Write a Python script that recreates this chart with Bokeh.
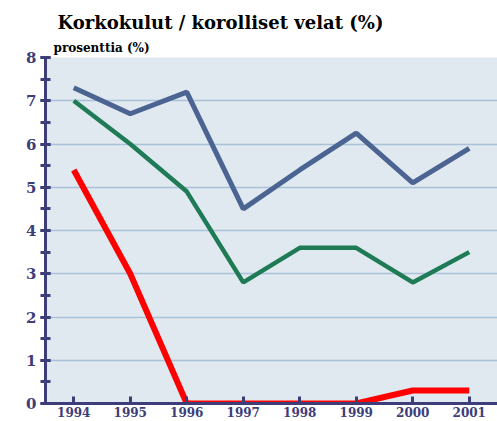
from bokeh.plotting import figure
from bokeh.models import Title, Range1d, FixedTicker
from bokeh.embed import file_html
from bokeh.resources import INLINE

years = [1994, 1995, 1996, 1997, 1998, 1999, 2000, 2001]
blue_vals = [7.3, 6.7, 7.2, 4.5, 5.4, 6.25, 5.1, 5.9]
green_vals = [7.0, 6.0, 4.9, 2.8, 3.6, 3.6, 2.8, 3.5]
red_vals = [5.4, 3.0, 0.0, 0.0, 0.0, 0.0, 0.3, 0.3]
y_ticks = [0, 1, 2, 3, 4, 5, 6, 7, 8]

NAVY = "#3d3d7a"
FONT = "DejaVu Serif"

p = figure(width=497, height=421, output_backend="svg", toolbar_location=None,
           x_range=Range1d(1993.5, 2001.5), y_range=Range1d(0, 8),
           min_border_left=45, min_border_right=0, min_border_top=57, min_border_bottom=18,
           background_fill_color="#e0e8f0", border_fill_color="white")
p.outline_line_color = None
p.title = None

sub = Title(text="prosenttia (%)", text_font=FONT, text_font_style="bold",
            text_font_size="12px", text_color="black", align="left", offset=8, standoff=5)
main = Title(text="Korkokulut / korolliset velat (%)", text_font=FONT, text_font_style="bold",
             text_font_size="18px", text_color="black", align="left", offset=12, standoff=7)
p.add_layout(sub, "above")
p.add_layout(main, "above")

p.line(years, blue_vals, line_color="#4b6491", line_width=5)
p.line(years, green_vals, line_color="#1e7b56", line_width=4.5)
p.line(years, red_vals, line_color="#ff0000", line_width=6)

p.xgrid.visible = False
p.ygrid.grid_line_color = "#a9c2d8"
p.ygrid.grid_line_width = 1.5
p.ygrid.ticker = FixedTicker(ticks=y_ticks)

xa = p.xaxis[0]
xa.ticker = FixedTicker(ticks=years)
xa.axis_line_color = NAVY
xa.axis_line_width = 3
xa.major_tick_line_color = NAVY
xa.major_tick_line_width = 3
xa.major_tick_in = 7
xa.major_tick_out = 0
xa.minor_tick_line_color = None
xa.major_label_text_font = FONT
xa.major_label_text_font_style = "bold"
xa.major_label_text_font_size = "12px"
xa.major_label_text_color = NAVY
xa.major_label_standoff = 3

ya = p.yaxis[0]
ya.ticker = FixedTicker(ticks=y_ticks, minor_ticks=[i * 0.5 for i in range(17)])
ya.axis_line_color = NAVY
ya.axis_line_width = 3
ya.major_tick_line_color = NAVY
ya.major_tick_line_width = 3
ya.major_tick_in = 5
ya.major_tick_out = 5
ya.minor_tick_line_color = NAVY
ya.minor_tick_line_width = 3
ya.minor_tick_in = 5
ya.minor_tick_out = 5
ya.major_label_text_font = FONT
ya.major_label_text_font_style = "bold"
ya.major_label_text_font_size = "15px"
ya.major_label_text_color = NAVY
ya.major_label_standoff = 4

open("out.html", "w").write(file_html(p, INLINE))
